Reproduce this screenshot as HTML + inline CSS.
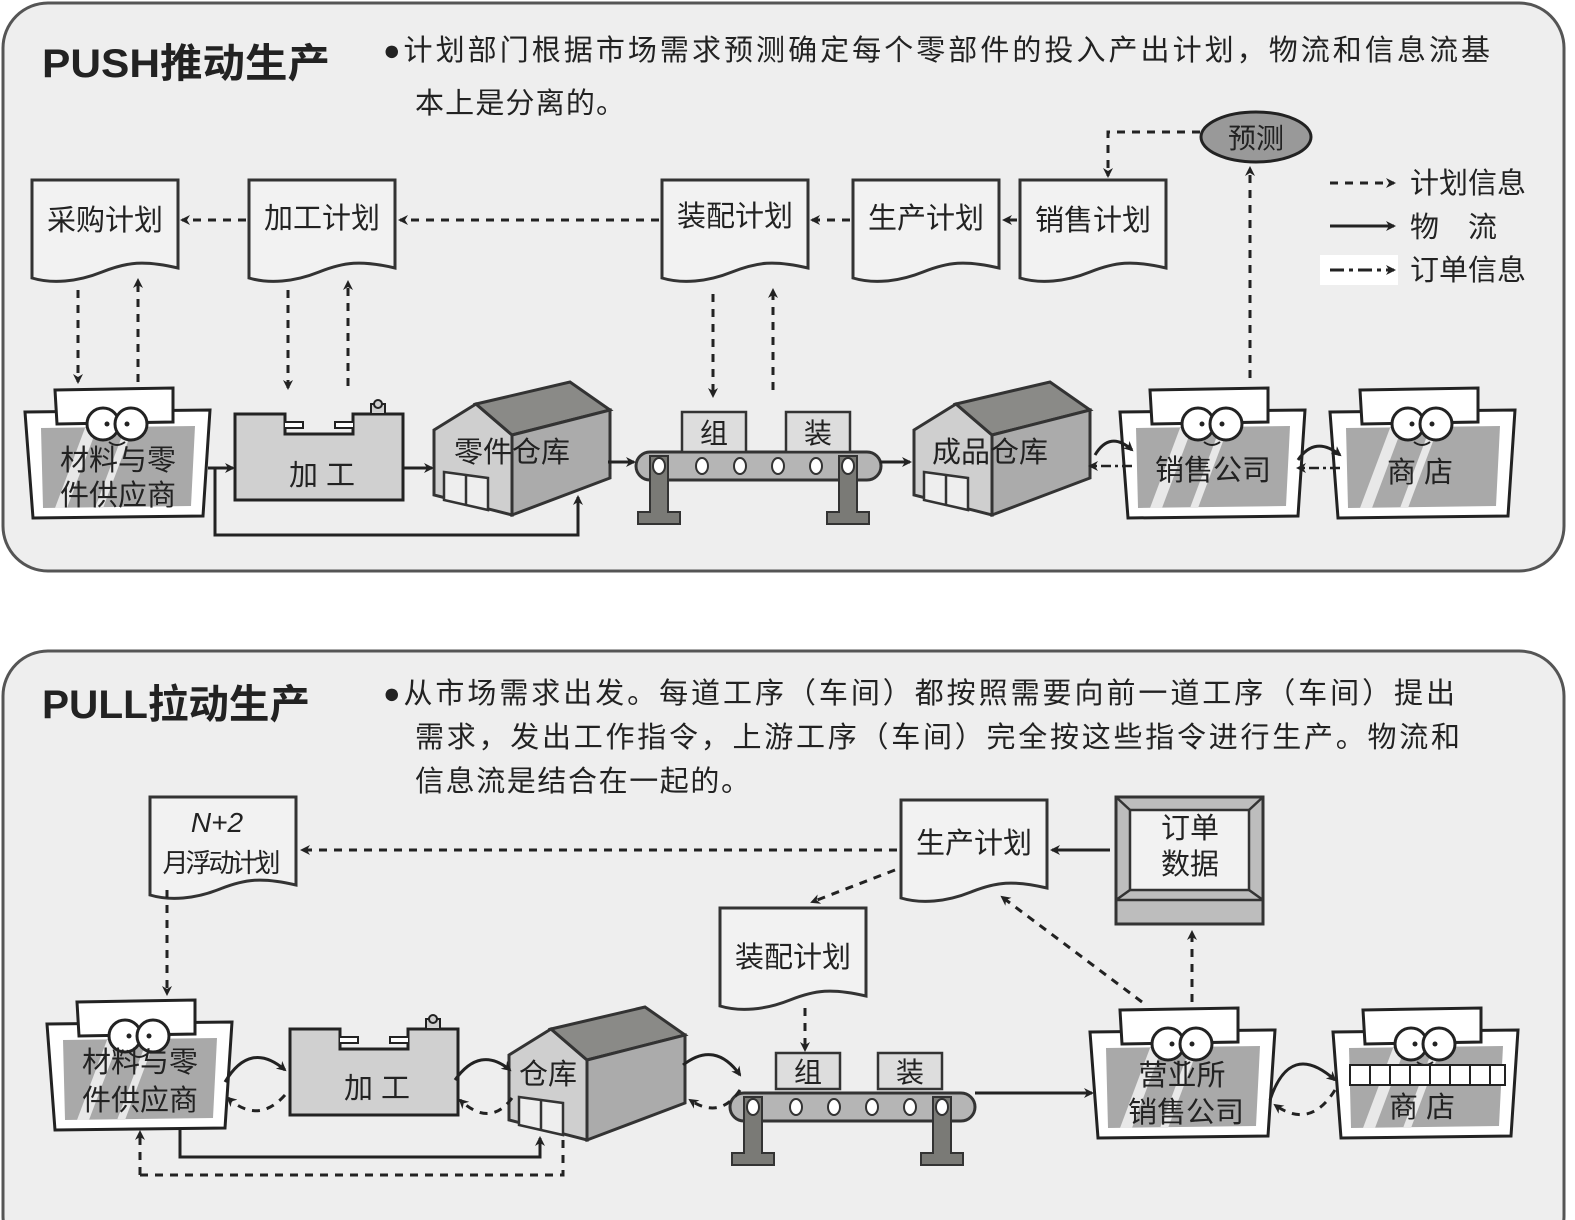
<!DOCTYPE html>
<html><head><meta charset="utf-8"><style>
html,body{margin:0;padding:0;background:#fff}
svg{display:block}
text{font-family:"Liberation Sans","Noto Sans CJK SC",sans-serif;fill:#222}
</style></head><body>
<svg width="1575" height="1220" viewBox="0 0 1575 1220" xmlns="http://www.w3.org/2000/svg">
<defs>
<marker id="ah" markerWidth="10" markerHeight="10" refX="8" refY="5" orient="auto" markerUnits="userSpaceOnUse"><path d="M0,0 L10,5 L0,10 L3,5 Z" fill="#222"/></marker>
<g id="doc"><path d="M0,0 H146 V88 C112,80 95,82 70,92 C45,102 20,104 0,98 Z" fill="#f2f2f2" stroke="#333" stroke-width="3"/></g>
<g id="shop">
<path d="M0,24 L185,22 L178,128 L8,130 Z" fill="#fff" stroke="#222" stroke-width="3"/>
<path d="M16,40 L170,38 L166,118 L18,120 Z" fill="#a9a9a9"/>
<path d="M30,120 L60,40 L72,40 L42,120 Z M70,120 L100,40 L108,40 L78,120 Z" fill="#e8e8e8"/>
<path d="M30,2 L148,0 L148,34 L32,36 Z" fill="#fff" stroke="#222" stroke-width="3"/>
<circle cx="78" cy="36" r="16" fill="#fff" stroke="#222" stroke-width="3"/>
<circle cx="106" cy="36" r="16" fill="#fff" stroke="#222" stroke-width="3"/>
<circle cx="82" cy="36" r="2.5" fill="#222"/><circle cx="102" cy="36" r="2.5" fill="#222"/>
<path d="M84,54 Q92,60 100,54" fill="none" stroke="#222" stroke-width="2"/>
</g>
<g id="mach">
<path d="M0,14 H50 V34 H118 V14 H168 V100 H0 Z" fill="#d0d0d0" stroke="#222" stroke-width="3"/>
<path d="M50,22 H68 V28 H50 M118,22 H100 V28 H118" fill="#fff" stroke="#222" stroke-width="2"/>
<rect x="136" y="4" width="14" height="10" fill="#d0d0d0" stroke="#222" stroke-width="2"/>
<circle cx="143" cy="4" r="4" fill="#d0d0d0" stroke="#222" stroke-width="2"/>
</g>
<g id="wh">
<path d="M4,50 L46,24 L82,55 L82,135 L4,115 Z" fill="#cfcfcf" stroke="#333" stroke-width="3"/>
<path d="M46,24 L140,2 L180,30 L82,55 Z" fill="#8a8a87" stroke="#333" stroke-width="3"/>
<path d="M82,55 L180,30 L180,98 L82,135 Z" fill="#ababab" stroke="#333" stroke-width="3"/>
<path d="M14,92 L58,98 L58,130 L14,120 Z M36,95 V126" fill="#eee" stroke="#333" stroke-width="2.5"/>
</g>
<g id="conv">
<rect x="0" y="40" width="245" height="28" rx="14" fill="#b5b5b5" stroke="#333" stroke-width="3"/>
<path d="M14,44 H32 V100 H44 V112 H2 V100 H14 Z" fill="#7a7a76" stroke="#333" stroke-width="2"/>
<path d="M203,44 H221 V100 H233 V112 H191 V100 H203 Z" fill="#7a7a76" stroke="#333" stroke-width="2"/>
<g fill="#fff" stroke="#333" stroke-width="2"><ellipse cx="23" cy="54" rx="6" ry="8"/><ellipse cx="66" cy="54" rx="6" ry="8"/><ellipse cx="104" cy="54" rx="6" ry="8"/><ellipse cx="142" cy="54" rx="6" ry="8"/><ellipse cx="180" cy="54" rx="6" ry="8"/><ellipse cx="212" cy="54" rx="6" ry="8"/></g>
</g>
</defs>

<!-- TOP PANEL -->
<rect x="3" y="3" width="1561" height="568" rx="45" fill="#eeeeee" stroke="#555" stroke-width="3"/>
<text x="42" y="77" font-size="40" font-weight="bold" textLength="288" lengthAdjust="spacingAndGlyphs">PUSH推动生产</text>
<text x="383" y="60" font-size="29" textLength="1107" lengthAdjust="spacing">●计划部门根据市场需求预测确定每个零部件的投入产出计划，物流和信息流基</text>
<text x="415" y="113" font-size="29" textLength="210" lengthAdjust="spacing">本上是分离的。</text>

<use href="#doc" x="32" y="180"/><text x="105" y="230" font-size="29" text-anchor="middle">采购计划</text>
<use href="#doc" x="249" y="180"/><text x="322" y="228" font-size="29" text-anchor="middle">加工计划</text>
<use href="#doc" x="662" y="180"/><text x="735" y="226" font-size="29" text-anchor="middle">装配计划</text>
<use href="#doc" x="853" y="180"/><text x="926" y="228" font-size="29" text-anchor="middle">生产计划</text>
<use href="#doc" x="1020" y="180"/><text x="1093" y="230" font-size="29" text-anchor="middle">销售计划</text>

<ellipse cx="1256" cy="137" rx="55" ry="25" fill="#999" stroke="#222" stroke-width="3"/>
<text x="1256" y="148" font-size="28" text-anchor="middle">预测</text>

<g stroke="#222" stroke-width="3" fill="none" stroke-dasharray="8,7" marker-end="url(#ah)">
<path d="M246,220 H182"/>
<path d="M659,220 H400"/>
<path d="M850,220 H812"/>
<path d="M1017,220 H1004"/>
<path d="M1200,132 H1108 V176"/>
<path d="M1250,378 V168"/>
<path d="M78,290 V382"/><path d="M138,382 V280"/>
<path d="M288,290 V388"/><path d="M348,386 V282"/>
<path d="M713,294 V396"/><path d="M773,390 V290"/>
</g>

<!-- legend -->
<rect x="1320" y="255" width="78" height="30" fill="#fff"/>
<g stroke="#222" stroke-width="3" fill="none" marker-end="url(#ah)">
<path d="M1330,183 H1394" stroke-dasharray="8,7"/>
<path d="M1330,226 H1394"/>
<path d="M1330,270 H1394" stroke-dasharray="14,5,4,5"/>
</g>
<text x="1410" y="193" font-size="29">计划信息</text>
<text x="1410" y="237" font-size="29">物　流</text>
<text x="1410" y="280" font-size="29">订单信息</text>

<use href="#shop" x="25" y="388"/>
<text x="118" y="470" font-size="29" text-anchor="middle">材料与零</text>
<text x="118" y="505" font-size="29" text-anchor="middle">件供应商</text>
<use href="#mach" x="235" y="400"/><text x="322" y="485" font-size="29" text-anchor="middle">加 工</text>
<use href="#wh" x="430" y="380"/><text x="512" y="462" font-size="29" text-anchor="middle">零件仓库</text>
<use href="#conv" x="636" y="412"/>
<rect x="682" y="412" width="64" height="40" fill="#ddd" stroke="#333" stroke-width="2.5"/><text x="714" y="443" font-size="28" text-anchor="middle">组</text>
<rect x="786" y="412" width="64" height="40" fill="#ddd" stroke="#333" stroke-width="2.5"/><text x="818" y="443" font-size="28" text-anchor="middle">装</text>
<use href="#wh" x="910" y="380"/><text x="990" y="462" font-size="29" text-anchor="middle">成品仓库</text>
<use href="#shop" x="1120" y="388"/><text x="1213" y="480" font-size="29" text-anchor="middle">销售公司</text>
<use href="#shop" x="1330" y="388"/><text x="1420" y="482" font-size="29" text-anchor="middle">商 店</text>

<g stroke="#222" stroke-width="3" fill="none" marker-end="url(#ah)">
<path d="M208,468 H233"/>
<path d="M403,468 H432"/>
<path d="M215,468 V535 H578 V497"/>
<path d="M608,462 H634"/>
<path d="M880,462 H910"/>
<path d="M1095,455 Q1110,430 1132,450"/>
<path d="M1298,460 Q1315,435 1340,455"/>
</g>
<g stroke="#222" stroke-width="2.5" fill="none" stroke-dasharray="10,4,3,4" marker-end="url(#ah)">
<path d="M1132,466 H1090"/>
<path d="M1340,468 H1298"/>
</g>

<!-- BOTTOM PANEL -->
<rect x="3" y="651" width="1561" height="610" rx="45" fill="#eeeeee" stroke="#555" stroke-width="3"/>
<text x="42" y="718" font-size="40" font-weight="bold" textLength="268" lengthAdjust="spacingAndGlyphs">PULL拉动生产</text>
<text x="383" y="703" font-size="29" textLength="1072" lengthAdjust="spacing">●从市场需求出发。每道工序（车间）都按照需要向前一道工序（车间）提出</text>
<text x="415" y="747" font-size="29" textLength="1045" lengthAdjust="spacing">需求，发出工作指令，上游工序（车间）完全按这些指令进行生产。物流和</text>
<text x="415" y="791" font-size="29" textLength="335" lengthAdjust="spacing">信息流是结合在一起的。</text>

<use href="#doc" x="150" y="797"/>
<text x="217" y="832" font-size="28" font-style="italic" text-anchor="middle">N+2</text>
<text x="220" y="872" font-size="26" text-anchor="middle" letter-spacing="-3">月浮动计划</text>
<use href="#doc" x="901" y="800"/><text x="974" y="853" font-size="29" text-anchor="middle">生产计划</text>
<use href="#doc" x="720" y="908"/><text x="793" y="967" font-size="29" text-anchor="middle">装配计划</text>

<!-- monitor -->
<rect x="1116" y="797" width="147" height="127" fill="#bdbdbd" stroke="#333" stroke-width="3"/>
<rect x="1130" y="810" width="119" height="80" fill="#f2f2f2" stroke="#333" stroke-width="2.5"/>
<path d="M1116,797 L1130,810 M1263,797 L1249,810 M1116,900 L1130,890 M1263,900 L1249,890 M1116,900 H1263" stroke="#333" stroke-width="2.5"/>
<text x="1190" y="838" font-size="29" text-anchor="middle">订单</text>
<text x="1190" y="874" font-size="29" text-anchor="middle">数据</text>

<use href="#shop" x="47" y="1000"/>
<text x="140" y="1072" font-size="29" text-anchor="middle">材料与零</text>
<text x="140" y="1110" font-size="29" text-anchor="middle">件供应商</text>
<use href="#mach" x="290" y="1015"/><text x="377" y="1098" font-size="29" text-anchor="middle">加 工</text>
<use href="#wh" x="505" y="1005"/><text x="548" y="1084" font-size="29" text-anchor="middle">仓库</text>
<use href="#conv" x="730" y="1053"/>
<rect x="776" y="1053" width="64" height="36" fill="#ddd" stroke="#333" stroke-width="2.5"/><text x="808" y="1082" font-size="28" text-anchor="middle">组</text>
<rect x="878" y="1053" width="64" height="36" fill="#ddd" stroke="#333" stroke-width="2.5"/><text x="910" y="1082" font-size="28" text-anchor="middle">装</text>
<use href="#shop" x="1090" y="1008"/>
<text x="1182" y="1085" font-size="29" text-anchor="middle">营业所</text>
<text x="1186" y="1122" font-size="29" text-anchor="middle">销售公司</text>
<use href="#shop" x="1333" y="1008"/>
<path d="M1350,1065 H1505 V1085 H1350 Z M1370,1065 V1085 M1390,1065 V1085 M1410,1065 V1085 M1430,1065 V1085 M1450,1065 V1085 M1470,1065 V1085 M1490,1065 V1085" fill="#fff" stroke="#222" stroke-width="2"/>
<text x="1422" y="1117" font-size="29" text-anchor="middle">商 店</text>

<g stroke="#222" stroke-width="3" fill="none" marker-end="url(#ah)">
<path d="M1110,850 H1052"/>
<path d="M975,1093 H1092"/>
<path d="M180,1128 V1157 H540 V1138"/>
<path d="M225,1082 Q250,1040 285,1070"/>
<path d="M455,1080 Q480,1045 510,1070"/>
<path d="M683,1065 Q715,1040 740,1075"/>
<path d="M1270,1100 Q1290,1040 1335,1080"/>
</g>
<g stroke="#222" stroke-width="3" fill="none" stroke-dasharray="8,7" marker-end="url(#ah)">
<path d="M897,850 H302"/>
<path d="M895,870 L812,902"/>
<path d="M167,890 V994"/>
<path d="M805,1008 V1050"/>
<path d="M1142,1002 L1002,897"/>
<path d="M1192,1002 V932"/>
<path d="M140,1175 H563 V1140 M140,1175 V1132"/>
<path d="M285,1095 Q258,1125 228,1098"/>
<path d="M512,1098 Q490,1128 460,1100"/>
<path d="M740,1090 Q720,1120 690,1100"/>
<path d="M1335,1090 Q1310,1130 1275,1105"/>
</g>
</svg>
</body></html>
